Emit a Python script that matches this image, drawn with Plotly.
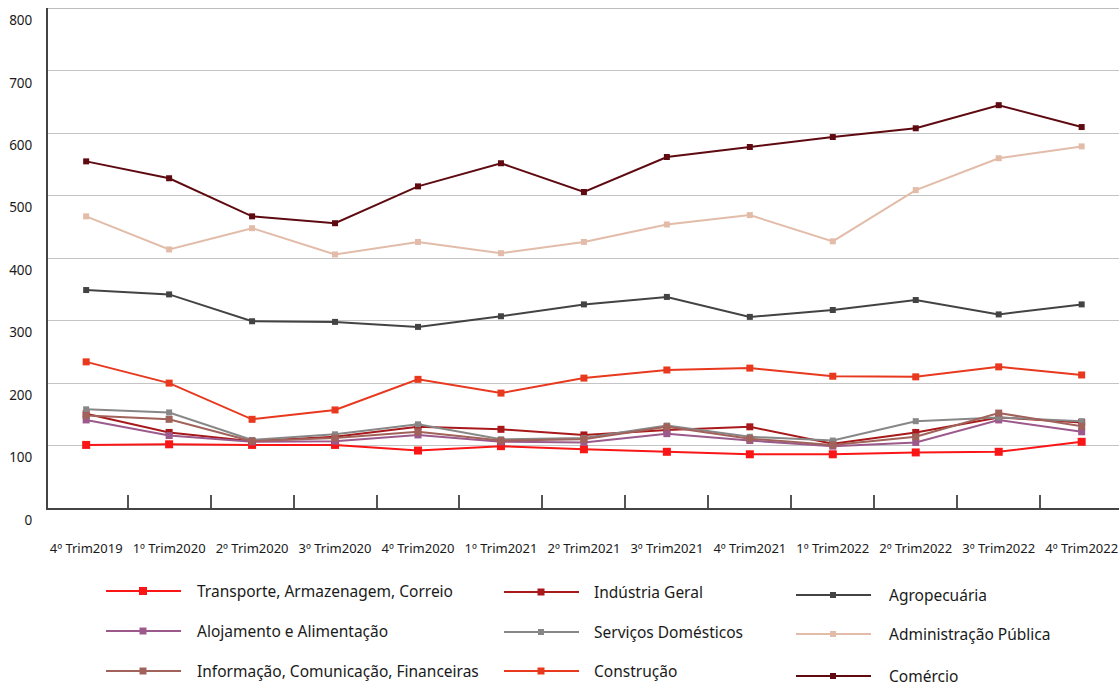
import plotly.graph_objects as go

# quarters on the x axis
quarters = ["4º Trim2019", "1º Trim2020", "2º Trim2020", "3º Trim2020", "4º Trim2020",
            "1º Trim2021", "2º Trim2021", "3º Trim2021", "4º Trim2021",
            "1º Trim2022", "2º Trim2022", "3º Trim2022", "4º Trim2022"]

transporte = [101, 102, 101, 101, 92, 99, 94, 90, 86, 86, 89, 90, 106]
industria = [151, 121, 107, 114, 130, 126, 117, 125, 130, 103, 121, 145, 137]
agropecuaria = [349, 342, 299, 298, 290, 307, 326, 338, 306, 317, 333, 310, 326]
alojamento = [141, 116, 106, 107, 117, 106, 105, 119, 108, 99, 105, 141, 122]
servicos_dom = [158, 153, 109, 118, 134, 110, 112, 132, 114, 108, 139, 145, 139]
administracao = [467, 414, 448, 406, 426, 408, 426, 454, 469, 427, 509, 560, 579]
informacao = [148, 142, 107, 112, 122, 108, 110, 130, 111, 101, 114, 152, 131]
construcao = [234, 200, 142, 157, 206, 184, 208, 221, 224, 211, 210, 226, 213]
comercio = [555, 528, 467, 456, 515, 552, 506, 562, 578, 594, 608, 645, 610]

y_ticks = [0, 100, 200, 300, 400, 500, 600, 700, 800]

# name, values, colour, marker size, legend column, legend row
series = [
    ("Transporte, Armazenagem, Correio", transporte, "#FA1616", 8, 0, 0),
    ("Indústria Geral", industria, "#A8191B", 7, 1, 0),
    ("Agropecuária", agropecuaria, "#434343", 6, 2, 0),
    ("Alojamento e Alimentação", alojamento, "#9C5A8C", 7, 0, 1),
    ("Serviços Domésticos", servicos_dom, "#878787", 6, 1, 1),
    ("Administração Pública", administracao, "#E2BCA9", 6, 2, 1),
    ("Informação, Comunicação, Financeiras", informacao, "#A0625A", 7, 0, 2),
    ("Construção", construcao, "#E8381E", 7, 1, 2),
    ("Comércio", comercio, "#5E0A10", 6, 2, 2),
]

W, H = 1119, 686
L, R, T, B = 48, 0, 8, 178
PW, PH = W - L - R, H - T - B


def px(x):
    return (x - L) / PW


def py(y):
    return (H - B - y) / PH


fig = go.Figure()

# top border of the plot (grid line at the axis maximum)
shapes = [dict(type="line", xref="paper", yref="y", x0=0, x1=1,
               y0=y_ticks[-1], y1=y_ticks[-1],
               line=dict(color="#BDBDBD", width=1.5), layer="below")]
annotations = []

col_line_x = [106, 504, 796]
col_text_x = [195, 592, 887]
row_y = [[591, 631, 671], [592, 632, 671], [595, 634, 676]]

for name, vals, color, msize, col, row in series:
    fig.add_trace(go.Scatter(
        x=quarters, y=vals, name=name, mode="lines+markers",
        line=dict(color=color, width=2),
        marker=dict(symbol="square", size=msize, color=color),
        showlegend=False,
    ))
    # hand-drawn legend entry
    yy = row_y[col][row]
    x0 = col_line_x[col]
    shapes.append(dict(type="line", xref="paper", yref="paper",
                       x0=px(x0), x1=px(x0 + 75), y0=py(yy), y1=py(yy),
                       line=dict(color=color, width=2)))
    half = msize / 2
    mx = x0 + 37
    shapes.append(dict(type="rect", xref="paper", yref="paper",
                       x0=px(mx - half), x1=px(mx + half),
                       y0=py(yy - half), y1=py(yy + half),
                       fillcolor=color, line=dict(width=0)))
    annotations.append(dict(text=name, xref="paper", yref="paper",
                            x=px(col_text_x[col]), y=py(yy),
                            xanchor="left", yanchor="middle", showarrow=False,
                            font=dict(size=15.5, color="#1a1a1a")))

fig.update_layout(
    width=W, height=H,
    margin=dict(l=L, r=R, t=T, b=B, autoexpand=False),
    plot_bgcolor="white", paper_bgcolor="white",
    font=dict(family="Noto Sans", size=13, color="#1a1a1a"),
    shapes=shapes, annotations=annotations,
    xaxis=dict(
        type="category", range=[-0.46, 12.45], automargin=False,
        showline=True, linecolor="#444444", linewidth=2,
        showgrid=False, tickson="boundaries",
        ticks="inside", ticklen=13, tickcolor="#555555", tickwidth=1.5,
        ticklabelstandoff=27, tickfont=dict(size=13, color="#1a1a1a"),
    ),
    yaxis=dict(
        range=[0, 800.6], tickvals=y_ticks, automargin=False,
        showline=True, linecolor="#444444", linewidth=2,
        showgrid=True, gridcolor="#C4C4C4", gridwidth=1.2,
        zeroline=False, ticks="",
        ticklabelstandoff=11, ticklabelshift=12,
        tickfont=dict(size=13.5, color="#1a1a1a"),
    ),
)

# drop the default page margin so the figure sits at the window's corner
fig.write_html("out.html", config={"displayModeBar": False},
               post_script="document.body.style.margin='0';"
                           "document.body.style.overflow='hidden';")
